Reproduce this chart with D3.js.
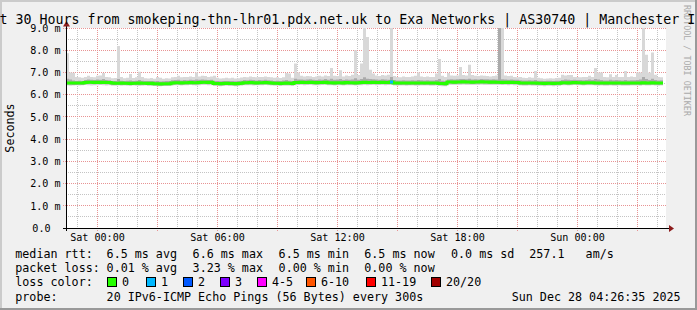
<!DOCTYPE html>
<html>
<head>
<meta charset="utf-8">
<script src="https://cdn.jsdelivr.net/npm/d3@7"></script>
<style>
html, body { margin: 0; padding: 0; background: #f0f0f0; }
svg { display: block; }
text { font-family: "DejaVu Sans Mono", monospace; fill: #000; }
</style>
</head>
<body>
<svg id="chart" width="697" height="310"></svg>
<script>
// time window of the graph (UTC), one sample every 9 minutes
const start = new Date(Date.UTC(2025, 11, 26, 22, 26, 35));
const end = new Date(Date.UTC(2025, 11, 28, 4, 26, 35));
const stepMin = 9;

// median rtt (ms)
const median = [
  6.53,6.53,6.52,6.52,6.53,6.52,6.55,6.56,6.56,6.55,
  6.56,6.55,6.56,6.55,6.55,6.52,6.51,6.51,6.52,6.51,
  6.51,6.50,6.51,6.51,6.52,6.51,6.51,6.50,6.51,6.49,
  6.49,6.48,6.49,6.49,6.49,6.53,6.54,6.54,6.53,6.54,
  6.54,6.55,6.54,6.54,6.55,6.56,6.56,6.55,6.56,6.50,
  6.50,6.49,6.50,6.51,6.50,6.50,6.49,6.50,6.51,6.54,
  6.54,6.55,6.54,6.53,6.54,6.54,6.55,6.54,6.53,6.51,
  6.51,6.50,6.51,6.52,6.51,6.50,6.55,6.55,6.56,6.55,
  6.55,6.56,6.55,6.54,6.55,6.55,6.56,6.54,6.54,6.53,
  6.54,6.54,6.53,6.55,6.54,6.54,6.53,6.54,6.55,6.56,
  6.55,6.55,6.56,6.55,6.55,6.56,6.55,6.55,6.57,6.53,
  6.52,6.52,6.53,6.52,6.52,6.53,6.52,6.52,6.53,6.52,
  6.53,6.52,6.52,6.53,6.50,6.50,6.49,6.57,6.57,6.56,
  6.57,6.57,6.58,6.57,6.57,6.56,6.57,6.57,6.58,6.57,
  6.57,6.56,6.57,6.56,6.56,6.55,6.56,6.55,6.56,6.55,
  6.55,6.53,6.52,6.52,6.53,6.52,6.52,6.51,6.51,6.50,
  6.51,6.51,6.50,6.51,6.51,6.54,6.54,6.53,6.54,6.55,
  6.54,6.54,6.53,6.54,6.54,6.54,6.53,6.52,6.53,6.52,
  6.52,6.53,6.52,6.52,6.53,6.52,6.52,6.52,6.53,6.53,
  6.53,6.52,6.54,6.53,6.53,6.54,6.53,6.52,6.53
];

// fastest ping of each sample (ms)
const pingMin = [
  6.41,6.40,6.41,6.42,6.41,6.42,6.43,6.42,6.41,6.42,
  6.42,6.43,6.42,6.41,6.42,6.40,6.40,6.41,6.40,6.41,
  6.40,6.40,6.41,6.40,6.39,6.40,6.41,6.40,6.39,6.39,
  6.38,6.38,6.39,6.39,6.40,6.41,6.42,6.42,6.41,6.42,
  6.42,6.43,6.42,6.41,6.42,6.43,6.43,6.42,6.42,6.39,
  6.39,6.38,6.39,6.40,6.39,6.39,6.38,6.39,6.40,6.42,
  6.42,6.42,6.41,6.42,6.42,6.42,6.43,6.42,6.41,6.40,
  6.40,6.39,6.40,6.40,6.40,6.39,6.42,6.43,6.43,6.42,
  6.43,6.43,6.42,6.42,6.42,6.43,6.43,6.42,6.42,6.41,
  6.42,6.42,6.41,6.42,6.42,6.42,6.41,6.42,6.42,6.43,
  6.42,6.43,6.43,6.42,6.43,6.43,6.42,6.43,6.44,6.41,
  6.40,6.41,6.41,6.40,6.41,6.41,6.40,6.40,6.41,6.41,
  6.41,6.40,6.40,6.41,6.39,6.38,6.38,6.44,6.44,6.43,
  6.44,6.44,6.45,6.44,6.44,6.43,6.44,6.44,6.45,6.44,
  6.44,6.43,6.44,6.43,6.44,6.43,6.43,6.42,6.43,6.42,
  6.42,6.41,6.40,6.40,6.41,6.40,6.40,6.39,6.39,6.38,
  6.39,6.39,6.38,6.39,6.39,6.42,6.42,6.41,6.42,6.43,
  6.42,6.42,6.41,6.42,6.42,6.42,6.41,6.40,6.41,6.40,
  6.40,6.41,6.40,6.40,6.41,6.40,6.40,6.40,6.41,6.41,
  6.41,6.40,6.42,6.41,6.41,6.42,6.41,6.40,6.41
];

// lower edge of the dense smoke (ms)
const pingLow = [
  6.45,6.45,6.44,6.44,6.45,6.44,6.47,6.48,6.48,6.47,
  6.48,6.47,6.48,6.47,6.47,6.44,6.43,6.43,6.44,6.43,
  6.43,6.42,6.43,6.43,6.44,6.43,6.43,6.42,6.43,6.41,
  6.41,6.40,6.41,6.41,6.41,6.45,6.46,6.46,6.45,6.46,
  6.46,6.47,6.46,6.46,6.47,6.48,6.48,6.47,6.48,6.42,
  6.42,6.41,6.42,6.43,6.42,6.42,6.41,6.42,6.43,6.46,
  6.46,6.47,6.46,6.45,6.46,6.46,6.47,6.46,6.45,6.43,
  6.43,6.42,6.43,6.44,6.43,6.42,6.47,6.47,6.48,6.47,
  6.47,6.48,6.47,6.46,6.47,6.47,6.48,6.46,6.46,6.45,
  6.46,6.46,6.45,6.47,6.46,6.46,6.45,6.46,6.47,6.48,
  6.47,6.47,6.48,6.47,6.47,6.48,6.47,6.47,6.49,6.45,
  6.44,6.44,6.45,6.44,6.44,6.45,6.44,6.44,6.45,6.44,
  6.45,6.44,6.44,6.45,6.42,6.42,6.41,6.49,6.49,6.48,
  6.49,6.49,6.50,6.49,6.49,6.48,6.49,6.49,6.50,6.49,
  6.49,6.48,6.49,6.48,6.48,6.47,6.48,6.47,6.48,6.47,
  6.47,6.45,6.44,6.44,6.45,6.44,6.44,6.43,6.43,6.42,
  6.43,6.43,6.42,6.43,6.43,6.46,6.46,6.45,6.46,6.47,
  6.46,6.46,6.45,6.46,6.46,6.46,6.45,6.44,6.45,6.44,
  6.44,6.45,6.44,6.44,6.45,6.44,6.44,6.44,6.45,6.45,
  6.45,6.44,6.46,6.45,6.45,6.46,6.45,6.44,6.45
];

// upper edge of the dense smoke (ms)
const pingHigh = [
  6.72,6.68,6.64,6.62,6.63,6.62,6.66,6.68,6.67,6.66,
  6.68,6.67,6.70,6.66,6.65,6.62,6.61,6.70,6.63,6.62,
  6.63,6.64,6.62,6.63,6.66,6.63,6.62,6.61,6.62,6.60,
  6.61,6.59,6.60,6.61,6.62,6.65,6.66,6.67,6.64,6.66,
  6.65,6.67,6.66,6.68,6.67,6.68,6.67,6.66,6.67,6.62,
  6.62,6.60,6.61,6.62,6.61,6.62,6.60,6.61,6.63,6.66,
  6.65,6.67,6.66,6.64,6.66,6.65,6.67,6.65,6.64,6.62,
  6.63,6.62,6.64,6.66,6.63,6.62,6.72,6.68,6.68,6.67,
  6.68,6.69,6.67,6.66,6.68,6.67,6.70,6.67,6.72,6.67,
  6.68,6.70,6.66,6.68,6.67,6.68,6.74,6.67,6.70,6.78,
  6.72,6.70,6.69,6.68,6.67,6.69,6.68,6.67,6.80,6.66,
  6.64,6.64,6.65,6.64,6.64,6.65,6.64,6.66,6.65,6.64,
  6.65,6.64,6.64,6.66,6.70,6.63,6.61,6.68,6.69,6.68,
  6.69,6.71,6.70,6.69,6.72,6.68,6.69,6.68,6.70,6.69,
  6.69,6.68,6.69,6.68,9.50,6.69,6.68,6.67,6.68,6.67,
  6.67,6.65,6.64,6.64,6.65,6.64,6.66,6.63,6.63,6.62,
  6.63,6.63,6.62,6.63,6.63,6.66,6.68,6.67,6.66,6.67,
  6.66,6.66,6.65,6.66,6.68,6.66,6.70,6.68,6.66,6.64,
  6.64,6.67,6.65,6.66,6.65,6.64,6.66,6.64,6.65,6.65,
  6.66,6.68,6.80,6.70,6.66,6.72,6.66,6.64,6.65
];

// slowest ping of each sample (ms)
const pingMax = [
  7.86,7.00,6.99,6.80,6.78,6.76,6.80,6.85,6.80,6.78,
  6.85,6.86,6.98,6.80,6.78,6.74,6.75,8.19,6.80,6.74,
  6.76,6.93,6.75,6.78,7.03,6.80,6.74,6.73,6.75,6.72,
  6.80,6.76,6.72,6.74,6.73,6.78,6.80,6.85,6.78,6.80,
  6.79,6.82,6.80,7.00,6.82,6.85,6.84,6.80,6.82,6.85,
  6.76,6.73,6.74,6.76,6.74,6.76,6.73,6.74,6.77,6.80,
  6.78,6.82,6.80,6.78,6.80,6.79,6.82,6.80,6.78,6.76,
  6.78,6.75,6.78,6.98,6.95,6.76,7.40,7.00,6.85,6.82,
  6.84,6.83,6.80,6.82,6.85,6.82,6.86,6.84,7.20,6.85,
  6.84,7.10,6.82,6.86,6.84,6.90,8.00,6.88,7.40,9.50,
  8.60,7.12,6.95,6.86,6.84,6.88,6.86,6.90,9.50,6.84,
  6.80,6.78,6.82,6.80,6.79,6.82,6.85,7.00,6.82,6.80,
  6.82,6.80,6.80,6.95,7.60,6.85,6.80,6.98,6.86,6.85,
  6.86,7.25,6.88,6.86,7.35,6.88,6.85,6.84,6.86,6.85,
  6.84,6.82,6.84,6.86,9.50,9.50,6.86,6.84,6.85,6.80,
  6.78,6.80,6.76,6.75,6.78,6.76,7.07,6.76,6.74,6.72,
  6.73,6.74,6.73,6.75,6.76,6.90,6.86,6.88,6.88,6.80,
  6.80,6.78,6.79,6.80,6.85,6.80,7.20,7.00,7.00,6.80,
  6.78,6.92,6.80,6.88,6.79,6.80,7.07,6.80,6.82,6.80,
  7.00,7.00,9.10,7.80,7.00,7.90,6.90,6.80,6.78
];

// samples with lost pings (index into the arrays above, pings lost)
const lossIdx = [108];
const lossCount = [1];

// legend
const lossLabels = ["0", "1", "2", "3", "4-5", "6-10", "11-19", "20/20"];
const lossColors = ["#26ff00", "#00b8ff", "#0059ff", "#7e00ff", "#ff00ff", "#ff5500", "#ff0000", "#a10000"];
const lossUpper = [0, 1, 2, 3, 5, 10, 19, 20];
const rttStats = [6.5, 6.6, 6.5, 6.5, 0.0];   // avg max min now sd (ms)
const lossStats = [0.01, 3.23, 0.00, 0.00];   // avg max min now (%)
const amPerSec = 257.1;

// the title is wider than the picture; only this part of it shows
const title = "t 30 Hours from smokeping-thn-lhr01.pdx.net.uk to Exa Networks | AS30740 | Manchester I";
const probeText = "20 IPv6-ICMP Echo Pings (56 Bytes) every 300s";
const stampText = "Sun Dec 28 04:26:35 2025";

// ---------------------------------------------------------------
const W = 697, H = 310;
const plot = { left: 66, right: 666, top: 28, bottom: 228 };
const svg = d3.select("#chart");

const x = d3.scaleTime().domain([start, end]).range([plot.left, plot.right]);
const y = d3.scaleLinear().domain([0, 9]).range([plot.bottom, plot.top]);
const px = v => Math.floor(v) + 0.5;

// frame
svg.append("rect").attr("width", W).attr("height", H).attr("fill", "#f0f0f0");
svg.append("rect").attr("x", 0).attr("y", 0).attr("width", W).attr("height", 2).attr("fill", "#cbcbcb");
svg.append("rect").attr("x", 0).attr("y", 0).attr("width", 2).attr("height", H).attr("fill", "#cbcbcb");
svg.append("rect").attr("x", 0).attr("y", H - 2).attr("width", W).attr("height", 2).attr("fill", "#999");
svg.append("rect").attr("x", W - 2).attr("y", 0).attr("width", 2).attr("height", H).attr("fill", "#999");

svg.append("rect")
  .attr("x", plot.left).attr("y", plot.top)
  .attr("width", plot.right - plot.left).attr("height", plot.bottom - plot.top)
  .attr("fill", "#fff");

// grid
const grid = svg.append("g").attr("shape-rendering", "crispEdges");
const hours = d3.utcHour.range(d3.utcHour.ceil(start), end);
const minorY = d3.range(0.5, 9, 1);
const majorY = d3.range(1, 10, 1);

grid.selectAll(".vmin").data(hours.filter(h => h.getUTCHours() % 3 !== 0)).enter()
  .append("line")
  .attr("x1", d => px(x(d))).attr("x2", d => px(x(d)))
  .attr("y1", plot.top).attr("y2", plot.bottom)
  .attr("stroke", "#c4c4c4").attr("stroke-dasharray", "1,1");

grid.selectAll(".hmin").data(minorY).enter()
  .append("line")
  .attr("x1", plot.left).attr("x2", plot.right)
  .attr("y1", d => px(y(d))).attr("y2", d => px(y(d)))
  .attr("stroke", "#c4c4c4").attr("stroke-dasharray", "1,1");

grid.selectAll(".vmaj").data(hours.filter(h => h.getUTCHours() % 3 === 0)).enter()
  .append("line")
  .attr("x1", d => px(x(d))).attr("x2", d => px(x(d)))
  .attr("y1", plot.top).attr("y2", plot.bottom + 3)
  .attr("stroke", "#e89494").attr("stroke-dasharray", "1,1");

grid.selectAll(".hmaj").data(majorY).enter()
  .append("line")
  .attr("x1", plot.left - 3).attr("x2", plot.right)
  .attr("y1", d => px(y(d))).attr("y2", d => px(y(d)))
  .attr("stroke", "#e89494").attr("stroke-dasharray", "1,1");

// data
const n = median.length;
const rows = median.map((m, i) => ({
  t: d3.utcMinute.offset(start, i * stepMin),
  med: m, lo: pingMin[i], q1: pingLow[i], q3: pingHigh[i], hi: pingMax[i]
}));
rows.push(Object.assign({}, rows[n - 1], { t: d3.utcMinute.offset(start, n * stepMin) }));

svg.append("clipPath").attr("id", "clip")
  .append("rect")
  .attr("x", plot.left).attr("y", plot.top)
  .attr("width", plot.right - plot.left).attr("height", plot.bottom - plot.top);

const g = svg.append("g").attr("clip-path", "url(#clip)");

const outer = d3.area().curve(d3.curveStepAfter)
  .x(d => x(d.t)).y0(d => y(d.lo)).y1(d => y(d.hi));
const inner = d3.area().curve(d3.curveStepAfter)
  .x(d => x(d.t)).y0(d => y(d.q1)).y1(d => y(d.q3));
const medLine = d3.line().curve(d3.curveStepAfter)
  .x(d => x(d.t)).y(d => y(d.med));

g.append("path").attr("d", outer(rows)).attr("fill", "#d8d8d8");
g.append("path").attr("d", inner(rows)).attr("fill", "#aaaaaa");
g.append("path").attr("d", medLine(rows))
  .attr("fill", "none").attr("stroke", lossColors[0]).attr("stroke-width", 3);

// loss coloured pieces of the median
const lossColor = c => lossColors[lossUpper.findIndex(u => c <= u)];
g.selectAll(".loss").data(lossIdx).enter()
  .append("path")
  .attr("d", d => medLine([rows[d], Object.assign({}, rows[d], { t: rows[d + 1].t })]))
  .attr("fill", "none")
  .attr("stroke", (d, k) => lossColor(lossCount[k]))
  .attr("stroke-width", 3);

// axes
const axis = svg.append("g").attr("shape-rendering", "crispEdges");
axis.append("line")
  .attr("x1", plot.left - 3).attr("x2", plot.right + 5)
  .attr("y1", px(y(0))).attr("y2", px(y(0)))
  .attr("stroke", "#000");
axis.append("line")
  .attr("x1", plot.left + 0.5).attr("x2", plot.left + 0.5)
  .attr("y1", plot.bottom + 3).attr("y2", plot.top - 4)
  .attr("stroke", "#000");
svg.append("path")
  .attr("d", `M${plot.right + 3},${plot.bottom - 3}L${plot.right + 8},${plot.bottom + 0.5}L${plot.right + 3},${plot.bottom + 4}Z`)
  .attr("fill", "#8c1c1c");
svg.append("path")
  .attr("d", `M${plot.left - 3},${plot.top - 1.5}L${plot.left + 0.5},${plot.top - 7}L${plot.left + 4},${plot.top - 1.5}Z`)
  .attr("fill", "#8c1c1c");

// axis labels
const fmtX = d3.utcFormat("%a %H:%M");
svg.selectAll(".xl").data(hours.filter(h => h.getUTCHours() % 6 === 0)).enter()
  .append("text")
  .attr("x", d => px(x(d))).attr("y", 241)
  .attr("text-anchor", "middle").attr("font-size", "10.1px")
  .text(d => fmtX(d));

svg.selectAll(".yl").data(d3.range(0, 10, 1)).enter()
  .append("text")
  .attr("x", d => d === 0 ? 50.6 : 60.6).attr("y", d => y(d) + 3.8)
  .attr("text-anchor", "end").attr("font-size", "10.1px")
  .text(d => d === 0 ? "0.0" : d3.format(".1f")(d) + " m");

svg.append("text")
  .attr("transform", "translate(14,128) rotate(-90)")
  .attr("text-anchor", "middle").attr("font-size", "11.7px")
  .text("Seconds");

svg.append("text")
  .attr("transform", "translate(684,5) rotate(90)")
  .attr("font-size", "8.4px").style("fill", "#aaaaaa")
  .text("RRDTOOL / TOBI OETIKER");

// title
svg.append("text")
  .attr("x", -0.5).attr("y", 24)
  .attr("font-size", "13.29px")
  .text(title);

// legend
const f1 = d3.format(".1f"), f2 = d3.format(".2f");
const legendRows = [
  { y: 257.5, items: [
    ["median rtt:", 15.3],
    [f1(rttStats[0]) + " ms avg", 106.6],
    [f1(rttStats[1]) + " ms max", 192.6],
    [f1(rttStats[2]) + " ms min", 278.6],
    [f1(rttStats[3]) + " ms now", 364.3],
    [f1(rttStats[4]) + " ms sd", 451],
    [f1(amPerSec) + "   am/s", 529.3]
  ]},
  { y: 271.7, items: [
    ["packet loss:", 15.3],
    [f2(lossStats[0]) + " % avg", 106.6],
    [f2(lossStats[1]) + " % max", 192.6],
    [f2(lossStats[2]) + " % min", 278.6],
    [f2(lossStats[3]) + " % now", 364.3]
  ]},
  { y: 285.7, items: [["loss color:", 15.3]] },
  { y: 300.5, items: [["probe:", 15.3], [probeText, 106.6]] }
];

legendRows.forEach(r => {
  svg.selectAll(null).data(r.items).enter()
    .append("text")
    .attr("x", d => d[1]).attr("y", r.y)
    .attr("font-size", "11.7px")
    .attr("xml:space", "preserve").style("white-space", "pre")
    .text(d => d[0]);
});

const boxX = [107, 146, 183, 220, 257, 306, 366, 431];
const lg = svg.append("g");
lg.selectAll("rect").data(lossLabels).enter()
  .append("rect")
  .attr("x", (d, i) => boxX[i] + 0.5).attr("y", 277.5)
  .attr("width", 9).attr("height", 9)
  .attr("fill", (d, i) => lossColors[i])
  .attr("stroke", "#000").attr("shape-rendering", "crispEdges");
lg.selectAll("text").data(lossLabels).enter()
  .append("text")
  .attr("x", (d, i) => boxX[i] + 15).attr("y", 285.7)
  .attr("font-size", "11.7px")
  .text(d => d);

svg.append("text")
  .attr("x", 680.6).attr("y", 300.5)
  .attr("text-anchor", "end").attr("font-size", "11.7px")
  .text(stampText);
</script>
</body>
</html>
